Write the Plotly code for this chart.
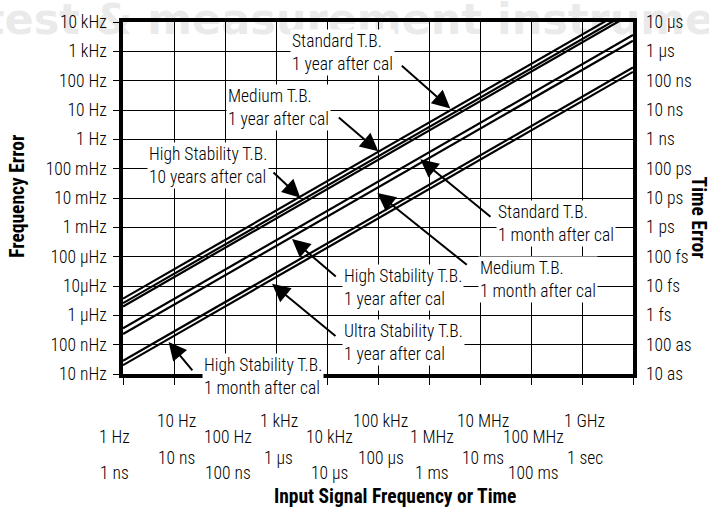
import math
import plotly.graph_objects as go

# ---------------- data ----------------
# aging curves: frequency error (Hz) at 1 Hz and at 10 GHz input
curve_names = [
    "Standard T.B. 1 year", "Medium T.B. 1 year", "High Stability T.B. 10 years",
    "Standard T.B. 1 month", "High Stability T.B. 1 year / Medium T.B. 1 month",
    "Ultra Stability T.B. 1 year", "High Stability T.B. 1 month",
]
err_at_1hz = [3.7e-6, 2.6e-6, 2.0e-6, 3.6e-7, 2.3e-7, 2.8e-8, 2.0e-8]
err_at_10ghz = [3.7e4, 2.6e4, 2.0e4, 3.6e3, 2.3e3, 2.8e2, 2.0e2]
x_ends = [1, 1e10]

freq_ticks = [1, 10, 100, 1e3, 1e4, 1e5, 1e6, 1e7, 1e8, 1e9]
freq_labels = ["1 Hz", "10 Hz", "100 Hz", "1 kHz", "10 kHz", "100 kHz", "1 MHz", "10 MHz", "100 MHz", "1 GHz"]
time_labels = ["1 ns", "10 ns", "100 ns", "1 µs", "10 µs", "100 µs", "1 ms", "10 ms", "100 ms", "1 sec"]

err_ticks = [1e-8, 1e-7, 1e-6, 1e-5, 1e-4, 1e-3, 1e-2, 1e-1, 1, 10, 100, 1e3, 1e4]
err_labels = ["10 nHz", "100 nHz", "1 µHz", "10µHz", "100 µHz", "1 mHz", "10 mHz", "100 mHz",
              "1 Hz", "10 Hz", "100 Hz", "1 kHz", "10 kHz"]
time_err_labels = ["10 as", "100 as", "1 fs", "10 fs", "100 fs", "1 ps", "10 ps", "100 ps",
                   "1 ns", "10 ns", "100 ns", "1 µs", "10 µs"]

curve_labels = [
    "Standard T.B.<br>1 year after cal",
    "Medium T.B.<br>1 year after cal",
    "High Stability T.B.<br>10 years after cal",
    "Standard T.B.<br>1 month after cal",
    "Medium T.B.<br>1 month after cal",
    "High Stability T.B.<br>1 year after cal",
    "Ultra Stability T.B.<br>1 year after cal",
    "High Stability T.B.<br>1 month after cal",
]

# ---------------- layout geometry (pixels) ----------------
W, H = 709, 508
L, R, T, B = 122.7, 632.7, 20, 374
FONT = "Roboto Condensed, Noto Sans Condensed, DejaVu Sans Condensed, sans-serif"
FS = 17.5
TFS = 19.5


def px(xp):
    return (xp - L) / (R - L)


def py(yp):
    return (B - yp) / (B - T)


def tfont(size):
    return dict(family=FONT, size=size, color="black", weight=300)


fig = go.Figure()
for i, name in enumerate(curve_names):
    fig.add_trace(go.Scatter(
        x=x_ends, y=[err_at_1hz[i], err_at_10ghz[i]], mode="lines",
        line=dict(color="black", width=2.2), name=name, showlegend=False,
        hoverinfo="skip"))
# invisible trace to anchor the right (time error) axis
fig.add_trace(go.Scatter(x=x_ends, y=[err_at_1hz[0], err_at_10ghz[0]], yaxis="y2",
                         mode="lines", line=dict(color="rgba(0,0,0,0)"),
                         showlegend=False, hoverinfo="skip"))

ann = []
# watermark
ann.append(dict(text="<b>test & measurement instruments</b>", xref="paper", yref="paper",
                x=px(-18), y=py(34), xanchor="left", yanchor="bottom", showarrow=False,
                font=dict(family="DejaVu Sans", size=43, color="black"), opacity=0.08,
                yshift=-10))

# curve labels (white boxes)
label_pos = [(291.7, 50.8), (227.7, 105.8), (149, 164.8), (497.7, 222.5),
             (480, 278.5), (343.3, 286.7), (343.3, 342.2), (203.3, 376.7)]
for txt, (lx, ly) in zip(curve_labels, label_pos):
    ann.append(dict(text=txt, xref="paper", yref="paper", x=px(lx - 2), y=py(ly),
                    xanchor="left", yanchor="middle", align="left", showarrow=False,
                    bgcolor="white", borderpad=1, font=tfont(FS)))

# arrows: (tip, tail) in pixels
arrows = [((450, 107), (400, 63)), ((378, 150), (337, 115)), ((300, 196.7), (271.7, 170)),
          ((420, 158), (491.7, 216.7)), ((377, 192), (468, 265)), ((291.7, 238.3), (337, 277)),
          ((271.7, 283.3), (336.7, 336.7)), ((168.3, 341.7), (193.3, 371.7))]
for (tx, ty), (sx, sy) in arrows:
    ann.append(dict(text="", xref="paper", yref="paper", x=px(tx), y=py(ty),
                    ax=sx - tx, ay=sy - ty, axref="pixel", ayref="pixel",
                    showarrow=True, arrowhead=2, arrowsize=1.8, arrowwidth=2,
                    arrowcolor="black", standoff=0))

# staggered bottom tick labels
row_y = {"fh": 421, "fl": 437, "th": 458, "tl": 474}
for k, (fv, fl, tl) in enumerate(zip(freq_ticks, freq_labels, time_labels)):
    hi = k % 2 == 1
    shift = -9 if k == 0 else 2.5
    xv = math.log10(fv)
    ann.append(dict(text=fl, xref="x", yref="paper", x=xv, xshift=shift,
                    y=py(row_y["fh"] if hi else row_y["fl"]), xanchor="center",
                    yanchor="middle", showarrow=False, font=tfont(FS)))
    ann.append(dict(text=tl, xref="x", yref="paper", x=xv, xshift=shift,
                    y=py(row_y["th"] if hi else row_y["tl"]), xanchor="center",
                    yanchor="middle", showarrow=False, font=tfont(FS)))

# axis titles
bold = dict(family=FONT, size=TFS, color="black", weight="bold")
ann.append(dict(text="Input Signal Frequency or Time", xref="paper", yref="paper",
                x=px(395), y=py(497), xanchor="center", yanchor="middle", showarrow=False,
                font=bold))
ann.append(dict(text="Frequency Error", xref="paper", yref="paper",
                x=px(16.5), y=py(195), xanchor="center", yanchor="middle", showarrow=False,
                textangle=-90, font=bold))
ann.append(dict(text="Time Error", xref="paper", yref="paper",
                x=px(698), y=py(217), xanchor="center", yanchor="middle", showarrow=False,
                textangle=90, font=bold))

fig.update_layout(
    width=W, height=H,
    margin=dict(l=L, r=W - R, t=T, b=H - B, pad=0),
    paper_bgcolor="white", plot_bgcolor="white",
    font=tfont(FS),
    xaxis=dict(type="log", range=[0, 10], tickvals=freq_ticks + [1e10], showticklabels=False,
               ticks="outside", ticklen=7, tickwidth=1.3, tickcolor="black",
               showgrid=True, gridcolor="black", gridwidth=1.3,
               showline=True, linecolor="black", linewidth=3.5, mirror=True, zeroline=False),
    yaxis=dict(type="log", range=[-8, 4], tickvals=err_ticks, ticktext=err_labels,
               ticks="outside", ticklen=6, tickwidth=1.3, tickcolor="black",
               ticklabelstandoff=3,
               showgrid=True, gridcolor="black", gridwidth=1.3,
               showline=True, linecolor="black", linewidth=3.5, mirror=True, zeroline=False,
               tickfont=tfont(FS)),
    yaxis2=dict(type="log", range=[-8, 4], overlaying="y", side="right", anchor="x",
                tickvals=err_ticks, ticktext=time_err_labels, ticks="", showgrid=False,
                showline=False, zeroline=False, ticklabelstandoff=12,
                tickfont=tfont(FS)),
    annotations=ann,
    showlegend=False,
)

fig.write_html("out.html", config={"displayModeBar": False},
               post_script="document.body.style.margin='0px';"
                           "document.documentElement.style.overflow='hidden';")
